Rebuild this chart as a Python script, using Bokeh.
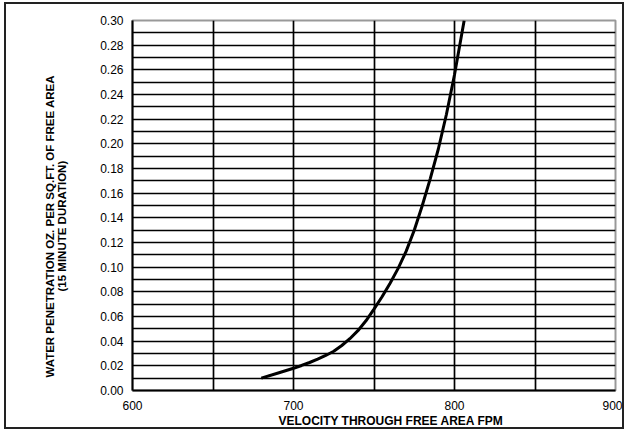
from bokeh.plotting import figure
from bokeh.models import Range1d, FixedTicker, NumeralTickFormatter, Title
from bokeh.embed import file_html
from bokeh.resources import INLINE

# Data
velocity = [680, 690, 700, 705, 710, 715, 720, 725, 730, 735, 740, 745, 750,
            755, 760, 765, 770, 775, 780, 785, 790, 795, 800, 806]
penetration = [0.010, 0.014, 0.018, 0.0203, 0.0227, 0.0254, 0.0284, 0.0318, 0.0365, 0.042, 0.0485, 0.0565, 0.066,
               0.076, 0.087, 0.099, 0.113, 0.130, 0.150, 0.172, 0.196, 0.224, 0.256, 0.300]

x_ticks = [600, 700, 800, 900]
x_grid = [650, 700, 750, 800, 850]
y_ticks = [round(i * 0.02, 2) for i in range(16)]
y_grid = [round(i * 0.01, 2) for i in range(1, 30)]

x_title = "VELOCITY THROUGH FREE AREA FPM"
y_title_1 = "WATER PENETRATION OZ. PER SQ.FT. OF FREE AREA"
y_title_2 = "(15 MINUTE DURATION)"

FONT = "Liberation Sans"

p = figure(width=620, height=427, output_backend="svg", toolbar_location=None,
           x_range=Range1d(600, 900), y_range=Range1d(0, 0.30),
           min_border_left=126, min_border_right=11, min_border_top=16, min_border_bottom=41)
p.styles = {"margin-left": "4px", "margin-top": "2px", "border": "2px solid #222"}
p.background_fill_color = "white"
p.border_fill_color = "white"
p.outline_line_color = "#999999"
p.outline_line_width = 2

# grids
p.xgrid.ticker = FixedTicker(ticks=x_grid)
p.ygrid.ticker = FixedTicker(ticks=y_grid)
p.xgrid.grid_line_color = "black"
p.ygrid.grid_line_color = "black"
p.xgrid.grid_line_width = 1.7
p.ygrid.grid_line_width = 1.7

# axes
p.xaxis.ticker = FixedTicker(ticks=x_ticks)
p.yaxis.ticker = FixedTicker(ticks=y_ticks)
p.yaxis.formatter = NumeralTickFormatter(format="0.00")
for ax in (p.xaxis, p.yaxis):
    ax.axis_line_color = "black"
    ax.axis_line_width = 2
    ax.major_tick_line_color = None
    ax.minor_tick_line_color = None
    ax.major_tick_out = 0
    ax.major_tick_in = 0
    ax.major_label_text_font = FONT
    ax.major_label_text_font_size = "12px"
    ax.major_label_text_color = "black"
p.xaxis.major_label_standoff = 10
p.yaxis.major_label_standoff = 9

# curve
p.line(velocity, penetration, line_color="black", line_width=3)

# axis titles as side titles
tx = Title(text=x_title, align="left", offset=146, vertical_align="top", standoff=2,
           text_font=FONT, text_font_size="12px", text_font_style="bold", text_color="black")
p.add_layout(tx, "below")
t2 = Title(text=y_title_2, align="left", offset=99, vertical_align="bottom", standoff=60,
           text_font=FONT, text_font_size="11.5px", text_font_style="bold", text_color="black")
p.add_layout(t2, "left")
t1 = Title(text=y_title_1, align="left", offset=13, vertical_align="bottom", standoff=-64,
           text_font=FONT, text_font_size="11.5px", text_font_style="bold", text_color="black")
p.add_layout(t1, "left")

open("out.html", "w").write(file_html(p, INLINE))
